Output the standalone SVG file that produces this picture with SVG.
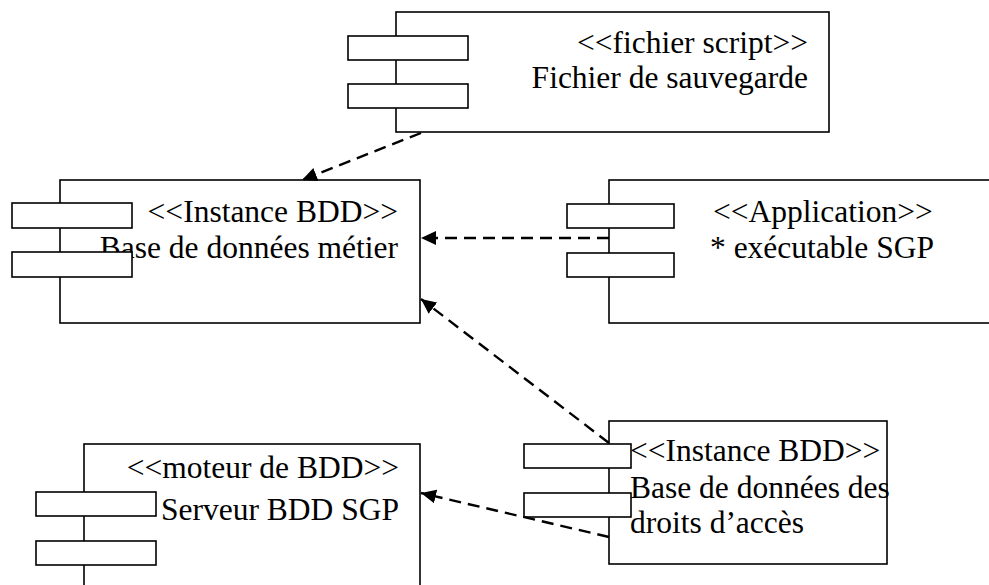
<svg xmlns="http://www.w3.org/2000/svg" width="989" height="585" viewBox="0 0 989 585">
<style>
  .body { fill: #fff; stroke: #000; stroke-width: 1.6; }
  .port { fill: #fff; stroke: #000; stroke-width: 1.6; }
  .lbl { font-family: 'Liberation Serif', 'Times New Roman', Times, serif; font-size: 31.5px; fill: #000; }
  .end { text-anchor: end; }
  .dep { fill: none; stroke: #000; stroke-width: 2.4; stroke-dasharray: 12 7; marker-end: url(#arrow); }
</style>
<defs>
  <marker id="arrow" markerUnits="userSpaceOnUse" markerWidth="16" markerHeight="14" refX="15" refY="7" orient="auto">
    <path d="M0,0 L15,7 L0,14 z" fill="#000" stroke="none"/>
  </marker>
</defs>
<rect width="989" height="585" fill="#fff"/>

<g id="fichier-sauvegarde">
  <rect class="body" x="396" y="12" width="433" height="120"/>
  <text class="lbl end" font-family="Liberation Serif, serif" x="808" y="53">&lt;&lt;fichier script&gt;&gt;</text>
  <text class="lbl end" font-family="Liberation Serif, serif" x="808" y="88">Fichier de sauvegarde</text>
  <rect class="port" x="348" y="36" width="120" height="24"/>
  <rect class="port" x="348" y="84" width="120" height="24"/>
</g>

<g id="bdd-metier">
  <rect class="body" x="60" y="180" width="360" height="143"/>
  <text class="lbl end" font-family="Liberation Serif, serif" x="398" y="222">&lt;&lt;Instance BDD&gt;&gt;</text>
  <text class="lbl end" font-family="Liberation Serif, serif" x="398" y="258">Base de données métier</text>
  <rect class="port" x="12" y="203" width="120" height="25"/>
  <rect class="port" x="12" y="252" width="120" height="25"/>
</g>

<g id="executable-sgp">
  <rect class="body" x="609" y="180" width="400" height="143"/>
  <text class="lbl" font-family="Liberation Serif, serif" x="713" y="222">&lt;&lt;Application&gt;&gt;</text>
  <text class="lbl" font-family="Liberation Serif, serif" x="710" y="258">* exécutable SGP</text>
  <rect class="port" x="567" y="204" width="107" height="24"/>
  <rect class="port" x="567" y="253" width="107" height="24"/>
</g>

<g id="serveur-bdd">
  <rect class="body" x="84" y="444" width="336" height="160"/>
  <text class="lbl end" font-family="Liberation Serif, serif" x="399" y="478">&lt;&lt;moteur de BDD&gt;&gt;</text>
  <text class="lbl end" font-family="Liberation Serif, serif" x="399" y="520">Serveur BDD SGP</text>
  <rect class="port" x="36" y="492" width="120" height="24"/>
  <rect class="port" x="36" y="541" width="120" height="24"/>
</g>

<g id="bdd-droits">
  <rect class="body" x="609" y="421" width="278" height="143"/>
  <text class="lbl" font-family="Liberation Serif, serif" x="630" y="461">&lt;&lt;Instance BDD&gt;&gt;</text>
  <text class="lbl" font-family="Liberation Serif, serif" x="630" y="498">Base de données des</text>
  <text class="lbl" font-family="Liberation Serif, serif" x="630" y="533">droits d’accès</text>
  <rect class="port" x="524" y="444" width="107" height="24"/>
  <rect class="port" x="524" y="493" width="107" height="24"/>
</g>

<g id="connectors">
  <line class="dep" x1="421" y1="133" x2="302" y2="180"/>
  <line class="dep" x1="609" y1="238" x2="421" y2="238"/>
  <line class="dep" x1="609" y1="443" x2="421" y2="299"/>
  <line class="dep" x1="609" y1="537" x2="421" y2="493"/>
</g>
</svg>
